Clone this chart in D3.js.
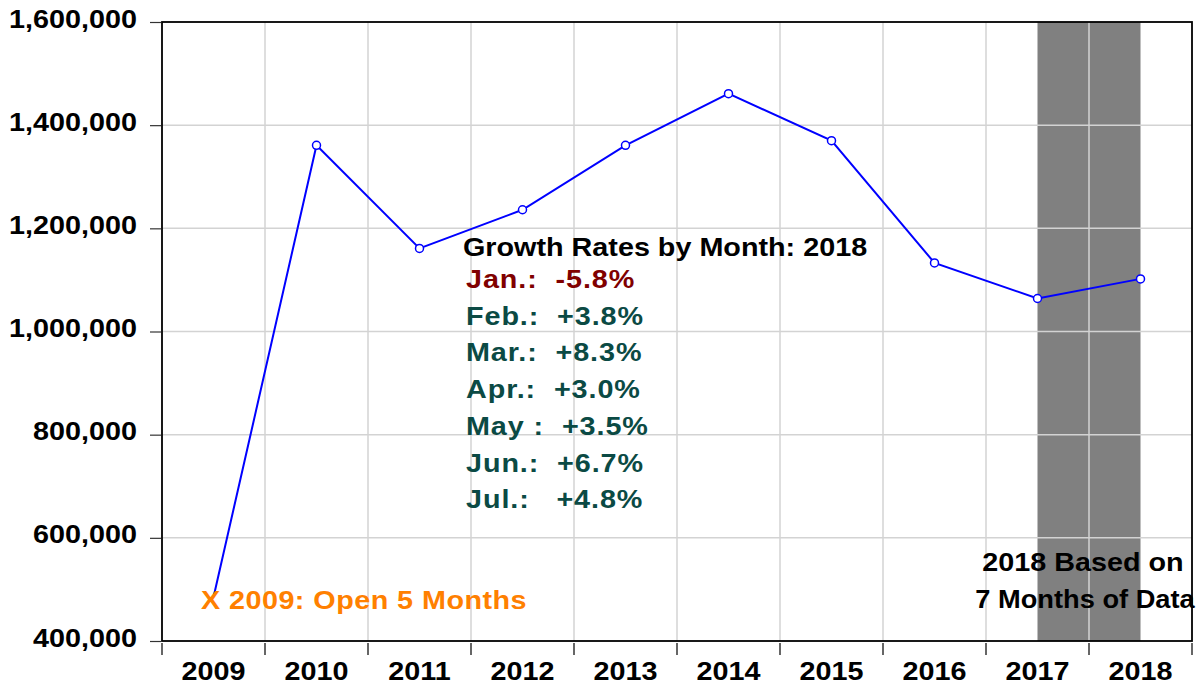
<!DOCTYPE html>
<html lang="en">
<head>
  <meta charset="UTF-8">
  <title>annual totals</title>
  <script src="https://cdn.jsdelivr.net/npm/d3@7"></script>
  <style>
    body { margin: 0; background: #fff; }
    text { font-family: Arial, "Liberation Sans", sans-serif; font-weight: bold; }
  </style>
</head>
<body>
  <script>
    // data
    var years = ['2009', '2010', '2011', '2012', '2013', '2014', '2015', '2016', '2017', '2018']
    var totals = [485000, 1361000, 1161000, 1236000, 1361000, 1461000, 1370000, 1133000, 1064000, 1102000]
    var yTicks = [400000, 600000, 800000, 1000000, 1200000, 1400000, 1600000]
    var monthLabels = ['Jan.:  -5.8%', 'Feb.:  +3.8%', 'Mar.:  +8.3%', 'Apr.:  +3.0%', 'May :  +3.5%', 'Jun.:  +6.7%', 'Jul.:   +4.8%']
    var shadeFrom = '2017', shadeTo = '2018'

    var w = 1201, h = 687
    var m = { left: 162, right: 9, top: 22, bottom: 46 }
    var fs = 25, sx = 1.15   // the original text is a bit stretched sideways

    var svg = d3.select('body').append('svg').attr('width', w).attr('height', h)

    var x = d3.scaleBand().domain(years).range([m.left, w - m.right])
    var y = d3.scaleLinear().domain([400000, 1600000]).range([h - m.bottom, m.top])

    // stretched text helper
    function label(parent, px, py, txt, anchor, color, ls, stretch) {
      return parent.append('text')
        .attr('transform', 'translate(' + px + ',' + py + ') scale(' + (stretch || sx) + ',1)')
        .attr('text-anchor', anchor || 'start')
        .attr('font-size', fs)
        .attr('fill', color || '#000')
        .attr('xml:space', 'preserve')
        .style('white-space', 'pre')
        .style('letter-spacing', (ls || 0) + 'px')
        .text(txt)
    }

    // shaded span between the 2017 and 2018 points
    svg.append('rect')
      .attr('x', x(shadeFrom) + x.bandwidth() / 2)
      .attr('y', m.top)
      .attr('width', x(shadeTo) - x(shadeFrom))
      .attr('height', y(400000) - m.top)
      .attr('fill', '#808080')

    // grid
    svg.append('g').selectAll('line').data(yTicks.slice(1, -1)).enter().append('line')
      .attr('x1', m.left).attr('x2', w - m.right)
      .attr('y1', function (d) { return y(d) }).attr('y2', function (d) { return y(d) })
      .attr('stroke', '#d3d3d3').attr('stroke-width', 1.5)
    svg.append('g').selectAll('line').data(years.slice(1)).enter().append('line')
      .attr('x1', function (d) { return x(d) }).attr('x2', function (d) { return x(d) })
      .attr('y1', m.top).attr('y2', y(400000))
      .attr('stroke', '#d3d3d3').attr('stroke-width', 1.5)

    // frame
    svg.append('rect')
      .attr('x', m.left).attr('y', m.top)
      .attr('width', w - m.right - m.left).attr('height', y(400000) - m.top)
      .attr('fill', 'none').attr('stroke', '#000').attr('stroke-width', 1.8)

    // y axis ticks + labels
    var yAxis = d3.axisLeft(y).tickValues(yTicks).tickSize(11).tickFormat('')
    var gy = svg.append('g').attr('transform', 'translate(' + (m.left - 1) + ',0)').call(yAxis)
    gy.select('.domain').remove()
    gy.selectAll('line').attr('stroke', '#333').attr('stroke-width', 1.2)
    var fmt = d3.format(',')
    yTicks.forEach(function (d) {
      label(svg, 137, y(d) + 5.5, fmt(d), 'end')
    })

    // x axis: ticks at the band edges, labels centered
    var gx = svg.append('g').attr('transform', 'translate(0,' + (y(400000) + 2) + ')')
    var edges = years.map(function (d) { return x(d) }).concat([x(years[years.length - 1]) + x.bandwidth()])
    gx.selectAll('line').data(edges).enter().append('line')
      .attr('x1', function (d) { return d }).attr('x2', function (d) { return d })
      .attr('y1', 0).attr('y2', 12)
      .attr('stroke', '#333').attr('stroke-width', 1.5)
    years.forEach(function (d) {
      label(svg, x(d) + x.bandwidth() / 2, 680, d, 'middle')
    })

    // line
    var line = d3.line()
      .x(function (d, i) { return x(years[i]) + x.bandwidth() / 2 })
      .y(function (d) { return y(d) })
    svg.append('path').datum(totals)
      .attr('d', line)
      .attr('fill', 'none').attr('stroke', '#0000ff').attr('stroke-width', 2)

    svg.selectAll('circle.pt').data(totals.slice(1)).enter().append('circle')
      .attr('class', 'pt')
      .attr('cx', function (d, i) { return x(years[i + 1]) + x.bandwidth() / 2 })
      .attr('cy', function (d) { return y(d) })
      .attr('r', 4)
      .attr('fill', '#fff').attr('stroke', '#0000ff').attr('stroke-width', 1.5)

    // annotations
    label(svg, 201, 609, 'X 2009: Open 5 Months', 'start', '#ff8000', 0.4)
    label(svg, 463, 256, 'Growth Rates by Month: 2018', 'start', '#000', 0)
    monthLabels.forEach(function (d, i) {
      label(svg, 466, 288 + i * 36.7, d, 'start', i === 0 ? '#800000' : '#0b4a44', 0.8)
    })
    label(svg, 1083, 571, '2018 Based on', 'middle')
    label(svg, 1085, 608, '7 Months of Data', 'middle', '#000', 0, 1.09)
  </script>
</body>
</html>
